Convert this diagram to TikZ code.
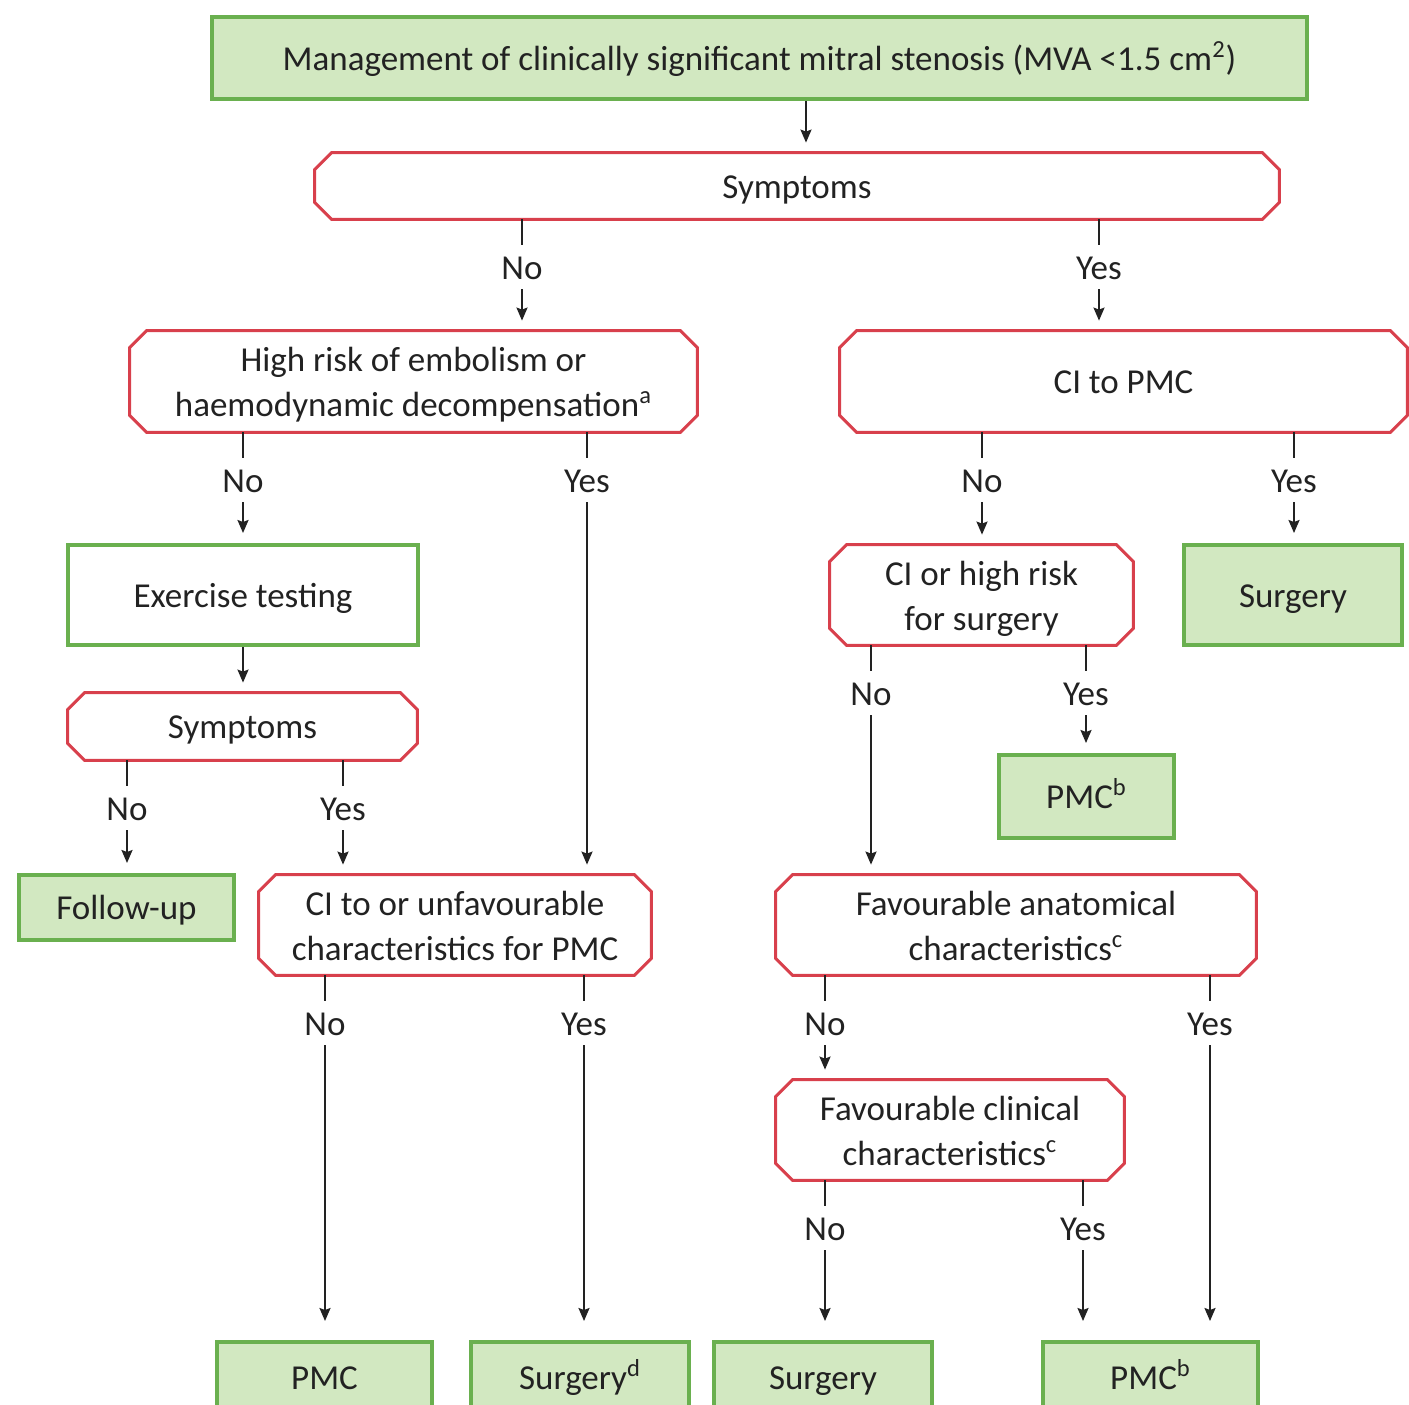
\documentclass[tikz,border=0pt]{standalone}
\usepackage{fontspec}
\setmainfont{Carlito}
\usetikzlibrary{calc,arrows.meta}
\definecolor{gborder}{HTML}{6AB04F}
\definecolor{gfill}{HTML}{D2E8C1}
\definecolor{rborder}{HTML}{D8404C}
\definecolor{ink}{HTML}{222222}
\newcommand\onestrut{\rule[-6pt]{0pt}{24pt}}
\newcommand\hightop{\rule{0pt}{40pt}}
\newcommand\lowstrut{\rule[-5pt]{0pt}{5pt}}
\tikzset{
  every node/.style={font=\fontsize{17.5}{22.5}\selectfont, text=ink},
  one/.style={execute at begin node=\onestrut, execute at end node=\onestrut},
  outcome/.style={rectangle, draw=gborder, fill=gfill, line width=2pt, align=center, inner sep=0pt, one},
  actbox/.style={outcome, fill=white},
  plainbox/.style={rectangle, draw=none, align=center, inner sep=0pt},
  decision/.style={plainbox, one},
  twoline/.style={plainbox, execute at begin node=\hightop, execute at end node=\lowstrut},
  lab/.style={inner sep=0pt, one},
  conn/.style={draw=ink, line width=1pt},
  arr/.style={conn, -{Stealth[length=6.5pt,width=5.5pt,inset=1pt]}},
}
\newcommand\octo[1]{\draw[rborder, line width=1.5pt]
  ([xshift=8.5pt]#1.north west) -- ([xshift=-8.5pt]#1.north east) --
  ([yshift=-8.5pt]#1.north east) -- ([yshift=8.5pt]#1.south east) --
  ([xshift=-8.5pt]#1.south east) -- ([xshift=8.5pt]#1.south west) --
  ([yshift=8.5pt]#1.south west) -- ([yshift=-8.5pt]#1.north west) -- cycle;}
\newcommand\branch[6][10]{%
  \draw[conn] (#2.south -| #4,0) -- ($(#2.south -| #4,0)+(0,26)$);
  \node[lab] (#6) at ($(#2.south -| #4,0)+(0,48)$) {#5};
  \draw[arr] ($(#2.south -| #4,0)+(0,70)$) -- ($(#3.north -| #4,0)+(0,-#1)$);
}
\begin{document}
\begin{tikzpicture}[x=0.5pt,y=-0.5pt]
\useasboundingbox (0,0) rectangle (1409,1404);
\clip (0,0) rectangle (1409,1404);

\node[outcome, minimum width=547.5pt, minimum height=41pt] (top) at (759.5,58)
  {Management of clinically significant mitral stenosis (MVA <1.5 cm\textsuperscript{2})};
\node[decision, minimum width=482pt, minimum height=33pt] (sym1) at (797,186) {Symptoms};
\node[twoline, minimum width=283.5pt, minimum height=50.5pt] (hre) at (413.5,381.5)
  {High risk of embolism or\\haemodynamic decompensation\textsuperscript{a}};
\node[decision, minimum width=283.5pt, minimum height=50.5pt] (cipmc) at (1123.5,381.5) {CI to PMC};
\node[actbox, minimum width=175pt, minimum height=50pt] (ex) at (243,595) {Exercise testing};
\node[twoline, minimum width=151.5pt, minimum height=50pt] (cihr) at (981.5,595) {CI or high risk\\for surgery};
\node[outcome, minimum width=109pt, minimum height=50pt] (surgT) at (1293,595) {Surgery};
\node[decision, minimum width=174.5pt, minimum height=33.5pt] (sym2) at (242.5,726.5) {Symptoms};
\node[outcome, minimum width=87.5pt, minimum height=41.5pt] (pmcA) at (1086.5,796.5) {PMC\textsuperscript{b}};
\node[outcome, minimum width=107.5pt, minimum height=32.5pt] (fu) at (126.5,907.5) {Follow-up};
\node[twoline, minimum width=196pt, minimum height=50pt] (ciunf) at (455,925)
  {CI to or unfavourable\\characteristics for PMC};
\node[twoline, minimum width=240pt, minimum height=50pt] (favA) at (1016,925)
  {Favourable anatomical\\characteristics\textsuperscript{c}};
\node[twoline, minimum width=174pt, minimum height=50pt] (favC) at (950,1130)
  {Favourable clinical\\characteristics\textsuperscript{c}};
\node[outcome, minimum width=107.5pt, minimum height=35pt] (pmcB) at (324.5,1377) {PMC};
\node[outcome, minimum width=109pt, minimum height=35pt] (surgD) at (580,1377) {Surgery\textsuperscript{d}};
\node[outcome, minimum width=109pt, minimum height=35pt] (surgB) at (823,1377) {Surgery};
\node[outcome, minimum width=107.5pt, minimum height=35pt] (pmcC) at (1150.5,1377) {PMC\textsuperscript{b}};

\octo{sym1}\octo{hre}\octo{cipmc}\octo{cihr}\octo{sym2}\octo{ciunf}\octo{favA}\octo{favC}

\draw[arr] (top.south -| 806,0) -- ($(sym1.north -| 806,0)+(0,-10)$);
\branch{sym1}{hre}{522}{No}{l1}
\branch{sym1}{cipmc}{1099}{Yes}{l2}
\branch{hre}{ex}{243}{No}{l3}
\branch{hre}{ciunf}{587}{Yes}{l4}
\branch{cipmc}{cihr}{982}{No}{l5}
\branch{cipmc}{surgT}{1294}{Yes}{l6}
\draw[arr] (ex.south) -- ($(ex.south |- sym2.north)+(0,-10)$);
\branch{sym2}{fu}{127}{No}{l7}
\branch{sym2}{ciunf}{343}{Yes}{l8}
\branch{cihr}{favA}{871}{No}{l9}
\branch{cihr}{pmcA}{1086}{Yes}{l10}
\branch[19]{ciunf}{pmcB}{325}{No}{l11}
\branch[19]{ciunf}{surgD}{584}{Yes}{l12}
\branch{favA}{favC}{825}{No}{l13}
\branch[19]{favA}{pmcC}{1210}{Yes}{l14}
\branch[19]{favC}{surgB}{825}{No}{l15}
\branch[19]{favC}{pmcC}{1083}{Yes}{l16}
\end{tikzpicture}
\end{document}
